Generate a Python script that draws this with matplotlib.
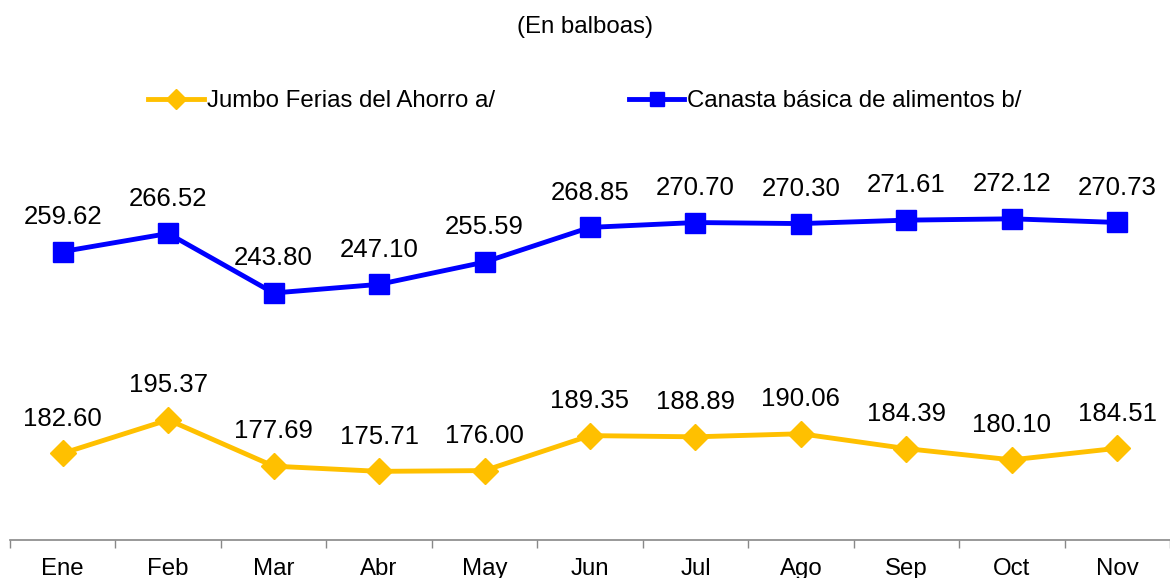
import matplotlib
matplotlib.use("Agg")
from matplotlib import pyplot as plt
import numpy as np

plt.rcParams['font.family'] = ['Liberation Sans', 'DejaVu Sans']

meses = ['Ene', 'Feb', 'Mar', 'Abr', 'May', 'Jun', 'Jul', 'Ago', 'Sep', 'Oct', 'Nov']
jumbo = [182.60, 195.37, 177.69, 175.71, 176.00, 189.35, 188.89, 190.06, 184.39, 180.10, 184.51]
canasta = [259.62, 266.52, 243.80, 247.10, 255.59, 268.85, 270.70, 270.30, 271.61, 272.12, 270.73]

fs = 17.3      # titulo, leyenda, ejes
fs_lab = 18.5  # etiquetas de datos

fig = plt.figure(figsize=(11.7, 5.78), dpi=100)
ax = fig.add_axes([10/1170, 38/578, 1160/1170, 395/578])

x = np.arange(len(meses))
l1, = ax.plot(x, jumbo, color='#FFC000', lw=3.5, marker='D', ms=13,
              label='Jumbo Ferias del Ahorro a/')
l2, = ax.plot(x, canasta, color='#0000FF', lw=3.5, marker='s', ms=14,
              label='Canasta básica de alimentos b/')

for xi, v in zip(x, jumbo):
    ax.annotate(f'{v:.2f}', (xi, v), xytext=(0, 25), textcoords='offset points',
                ha='center', va='center', fontsize=fs_lab)
for xi, v in zip(x, canasta):
    ax.annotate(f'{v:.2f}', (xi, v), xytext=(0, 25), textcoords='offset points',
                ha='center', va='center', fontsize=fs_lab)

ax.set_xlim(-0.5, len(meses) - 0.5)
ax.set_ylim(149.5, 300.3)
ax.set_xticks(x)
ax.set_xticklabels(meses, fontsize=fs)
ax.set_xticks(np.arange(-0.5, len(meses)), minor=True)
ax.tick_params(axis='x', which='major', length=0, pad=13)
ax.tick_params(axis='x', which='minor', length=6, color='#888888', width=1)
ax.set_yticks([])
for s in ['top', 'right', 'left']:
    ax.spines[s].set_visible(False)
ax.spines['bottom'].set_color('#888888')
ax.spines['bottom'].set_linewidth(1.2)

fig.text(0.5, 1 - 27/578, '(En balboas)', ha='center', va='center', fontsize=fs)
fig.legend(handles=[l1, l2], loc='center', bbox_to_anchor=(0.5, 1 - 101/578), ncol=2,
           frameon=False, fontsize=fs, handlelength=2.3, handletextpad=0.12,
           columnspacing=5.6, markerscale=0.75)

fig.savefig('out.png', dpi=100)
